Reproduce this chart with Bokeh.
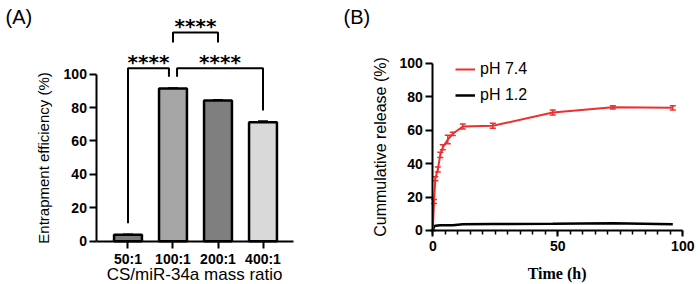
from bokeh.plotting import figure
from bokeh.models import (Range1d, FixedTicker, SingleIntervalTicker, Label, Whisker,
                          ColumnDataSource, Legend, LegendItem, TeeHead)
from bokeh.layouts import row
from bokeh.embed import file_html
from bokeh.resources import INLINE

# ---------------- data ----------------
ratios = ["50:1", "100:1", "200:1", "400:1"]
efficiency = [3.8, 91.4, 84.3, 71.2]
efficiency_sd = [0.4, 0.3, 0.4, 0.8]
bar_colors = ["#7b7b7b", "#a6a6a6", "#7f7f7f", "#d9d9d9"]
comparisons = [(0, 1, "****"), (1, 3, "****"), (1, 2, "****")]

time_h = [0, 0.5, 1, 2, 3, 4, 6, 8, 12, 24, 48, 72, 96]
release_74 = [0, 17.3, 30.9, 36.5, 45.2, 49.8, 54.4, 57.8, 62.2, 62.6, 70.5, 73.6, 73.3]
release_74_sd = [0, 1.2, 1.2, 1.5, 1.5, 1.5, 2.5, 1.0, 1.5, 1.5, 1.5, 1.0, 1.2]
release_12 = [0, 2.3, 2.8, 3.0, 3.1, 3.1, 3.2, 3.2, 3.8, 3.9, 4.0, 4.3, 3.8]

FONT = "Liberation Sans"
RED = "#ec2f2f"


def style_axis(ax):
    ax.axis_line_width = 2
    ax.axis_line_color = "black"
    ax.major_tick_line_width = 2
    ax.major_tick_line_color = "black"
    ax.major_tick_in = 0
    ax.minor_tick_in = 0
    ax.major_label_text_font = FONT
    ax.major_label_text_font_style = "bold"
    ax.major_label_text_font_size = "14px"
    ax.major_label_text_color = "black"
    ax.axis_label_text_color = "black"


def bare_figure(width, x_range, y_range):
    p = figure(width=width, height=284, x_range=x_range, y_range=y_range,
               output_backend="svg", toolbar_location=None,
               min_border_left=0, min_border_right=0, min_border_top=0, min_border_bottom=0)
    p.outline_line_color = None
    p.xgrid.visible = False
    p.ygrid.visible = False
    return p


# ---------------- panel A ----------------
xs = list(range(len(ratios)))
pA = bare_figure(340, Range1d(-2.833, 4.722), Range1d(-25.93, 144.13))

srcA = ColumnDataSource(dict(x=xs, top=efficiency, color=bar_colors,
                             upper=[v + s for v, s in zip(efficiency, efficiency_sd)],
                             lower=[v - s for v, s in zip(efficiency, efficiency_sd)]))
pA.vbar(x="x", top="top", bottom=0, width=0.62, fill_color="color", line_color="black",
        line_width=2.5, source=srcA)
pA.add_layout(Whisker(source=srcA, base="x", upper="upper", lower="lower",
                      line_color="black", line_width=1.5,
                      upper_head=TeeHead(size=10, line_color="black", line_width=1.5),
                      lower_head=None))

for ax in (pA.xaxis[0], pA.yaxis[0]):
    style_axis(ax)
    ax.major_tick_out = 7
    ax.minor_tick_line_color = None

pA.xaxis.ticker = FixedTicker(ticks=xs)
pA.xaxis.major_label_overrides = {i: r for i, r in zip(xs, ratios)}
pA.xaxis.major_label_standoff = 3
pA.xaxis.fixed_location = 0
pA.xaxis.bounds = (-0.69, 3.68)

pA.yaxis.ticker = FixedTicker(ticks=[0, 20, 40, 60, 80, 100])
pA.yaxis.fixed_location = -0.69
pA.yaxis.bounds = (0, 100)
pA.yaxis.major_label_standoff = 3
pA.yaxis.axis_label = "Entrapment efficiency (%)"
pA.yaxis.axis_label_text_font = FONT
pA.yaxis.axis_label_text_font_style = "normal"
pA.yaxis.axis_label_text_font_size = "15px"
pA.yaxis.axis_label_standoff = 8

pA.add_layout(Label(x=1.48, y=-19.9, text="CS/miR-34a mass ratio", text_align="center",
                    text_baseline="middle", text_font=FONT, text_font_size="17px",
                    text_color="black"))
pA.add_layout(Label(x=-2.72, y=134.5, text="(A)", text_align="left", text_baseline="middle",
                    text_font=FONT, text_font_size="20px", text_color="black"))

# significance brackets
low_level = 103.6
gap = 7.0
shift = 0.09
for i, j, lab in comparisons[:2]:
    xi = i + (shift if i == 1 else 0)
    xj = j - (shift if j == 1 else 0)
    yi = efficiency[i] + gap
    yj = efficiency[j] + gap
    pA.line(x=[xi, xi, xj, xj], y=[yi, low_level, low_level, yj], line_color="black",
            line_width=2)
    pA.add_layout(Label(x=(xi + xj) / 2, y=low_level + 4.0, text=lab, text_align="center",
                        text_baseline="middle", text_font="DejaVu Sans",
                        text_font_style="bold", text_font_size="20px", text_color="black"))
i, j, lab = comparisons[2]
top_level = 125.0
pA.line(x=[i, i, j, j], y=[top_level - 6, top_level, top_level, top_level - 6],
        line_color="black", line_width=2)
pA.add_layout(Label(x=(i + j) / 2, y=top_level + 3.7, text=lab, text_align="center",
                    text_baseline="middle", text_font="DejaVu Sans",
                    text_font_style="bold", text_font_size="20px", text_color="black"))

# ---------------- panel B ----------------
pB = bare_figure(360, Range1d(-36.92, 107.08), Range1d(-32.28, 137.48))

srcB = ColumnDataSource(dict(t=time_h, r74=release_74, r12=release_12,
                             upper=[v + s for v, s in zip(release_74, release_74_sd)],
                             lower=[v - s for v, s in zip(release_74, release_74_sd)]))
r_black = pB.line(x="t", y="r12", line_color="black", line_width=2.5, source=srcB)
r_red = pB.line(x="t", y="r74", line_color=RED, line_width=2, source=srcB)
pB.add_layout(Whisker(source=srcB, base="t", upper="upper", lower="lower",
                      line_color=RED, line_width=1.5,
                      upper_head=TeeHead(size=6, line_color=RED, line_width=1.5),
                      lower_head=TeeHead(size=6, line_color=RED, line_width=1.5)))

for ax in (pB.xaxis[0], pB.yaxis[0]):
    style_axis(ax)
    ax.minor_tick_line_width = 1.5
    ax.minor_tick_line_color = "black"

pB.xaxis.ticker = SingleIntervalTicker(interval=50, num_minor_ticks=10)
pB.xaxis.fixed_location = 0
pB.xaxis.bounds = (0, 100)
pB.xaxis.major_tick_out = 6
pB.xaxis.minor_tick_out = 4
pB.xaxis.major_label_standoff = 5

pB.yaxis.ticker = SingleIntervalTicker(interval=20, num_minor_ticks=0)
pB.yaxis.fixed_location = 0
pB.yaxis.bounds = (0, 100)
pB.yaxis.major_tick_out = 7
pB.yaxis.major_label_standoff = 3
pB.yaxis.axis_label = "Cummulative release (%)"
pB.yaxis.axis_label_text_font = FONT
pB.yaxis.axis_label_text_font_style = "normal"
pB.yaxis.axis_label_text_font_size = "16px"
pB.yaxis.axis_label_standoff = 7

pB.add_layout(Label(x=49.7, y=-25.5, text="Time (h)", text_align="center",
                    text_baseline="middle", text_font="Liberation Serif",
                    text_font_style="bold", text_font_size="16px", text_color="black"))

legend = Legend(items=[LegendItem(label="pH 7.4", renderers=[r_red]),
                       LegendItem(label="pH 1.2", renderers=[r_black])],
                location=(115, 179), orientation="vertical",
                border_line_color=None, background_fill_alpha=0, padding=0, margin=0,
                glyph_width=20, glyph_height=20, label_height=20, spacing=6,
                label_standoff=5, label_text_font=FONT, label_text_font_size="16px",
                label_text_color="black")
pB.add_layout(legend)

pB.add_layout(Label(x=-35.7, y=127.5, text="(B)", text_align="left", text_baseline="middle",
                    text_font=FONT, text_font_size="20px", text_color="black"))

layout = row(pA, pB)
open("out.html", "w").write(file_html(layout, INLINE))
